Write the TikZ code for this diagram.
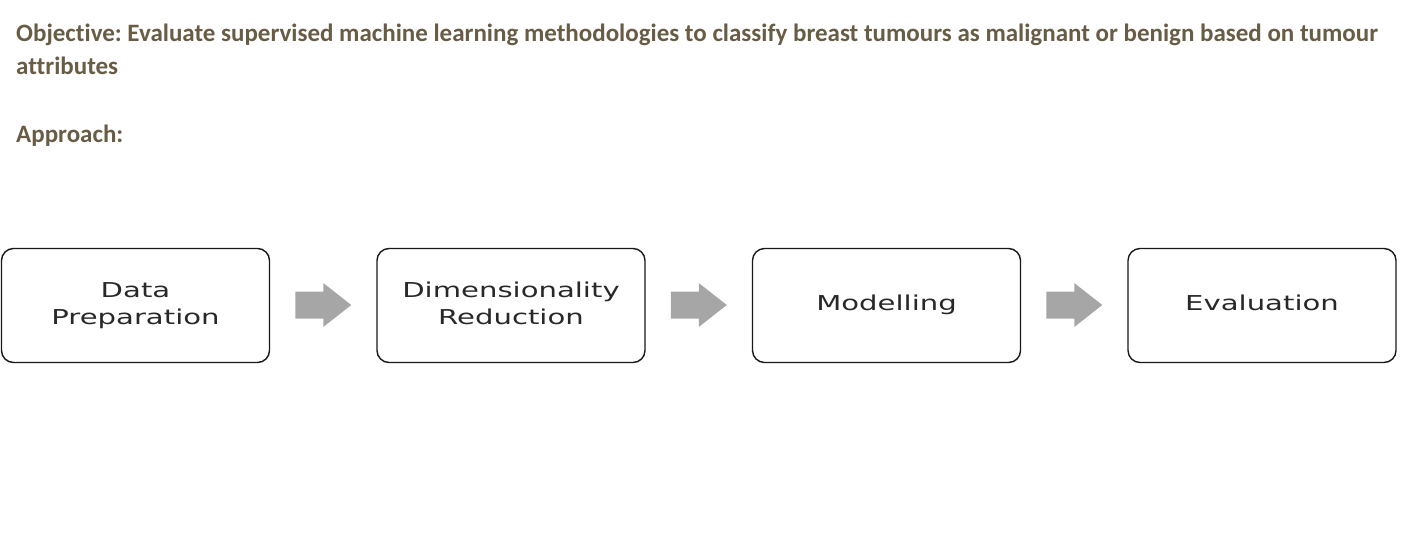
\documentclass[tikz,border=0pt]{standalone}
\usepackage{fontspec}
\setmainfont{Carlito}[Ligatures={NoCommon}]
\newfontfamily\boxfont{DejaVu Sans}
\usetikzlibrary{calc}
\definecolor{headc}{RGB}{104,92,68}
\definecolor{arrowc}{RGB}{166,166,166}
\definecolor{boxtext}{RGB}{40,40,40}
\newcommand\stagetext[1]{\scalebox{1.42}[1]{\boxfont\fontsize{20.5}{27}\selectfont\begin{tabular}{@{}c@{}}#1\end{tabular}}}
\frenchspacing
\begin{document}
\begin{tikzpicture}[x=1pt,y=-1pt,
  header/.style={anchor=base west, inner sep=0pt, text=headc, font=\fontsize{25}{30}\selectfont\bfseries},
  stage/.style={draw=black!90, line width=1.4pt, rounded corners=12pt, minimum width=268pt, minimum height=114pt, inner sep=0pt, text=boxtext},
  blockarrow/.style={fill=arrowc, draw=none}]
\useasboundingbox (0,0) rectangle (1404,541);
\node[header] (obj) at (16,41) {Objective: Evaluate supervised machine learning methodologies to classify breast tumours as malignant or benign based on tumour};
\node[header] (obj2) at (16,74) {attributes};
\node[header] (appr) at (16,142) {Approach:};

\node[stage] (s1) at (135.5,305.5) {\stagetext{Data\\Preparation}};
\node[stage] (s2) at (511,305.5) {\stagetext{Dimensionality\\Reduction}};
\node[stage] (s3) at (886.5,305.5) {\stagetext{Modelling}};
\node[stage] (s4) at (1262,305.5) {\stagetext{Evaluation}};

\foreach \a/\b/\m in {s1/s2/m1, s2/s3/m2, s3/s4/m3}{
  \coordinate (\m) at ($(\a.east)!0.5!(\b.west)+(0,-0.5)$);
  \fill[blockarrow] ($(\m)+(-28,-13.5)$) -- ($(\m)+(0,-13.5)$) -- ($(\m)+(0,-22)$) -- ($(\m)+(28,0)$) -- ($(\m)+(0,22)$) -- ($(\m)+(0,13.5)$) -- ($(\m)+(-28,13.5)$) -- cycle;
}
\end{tikzpicture}
\end{document}
